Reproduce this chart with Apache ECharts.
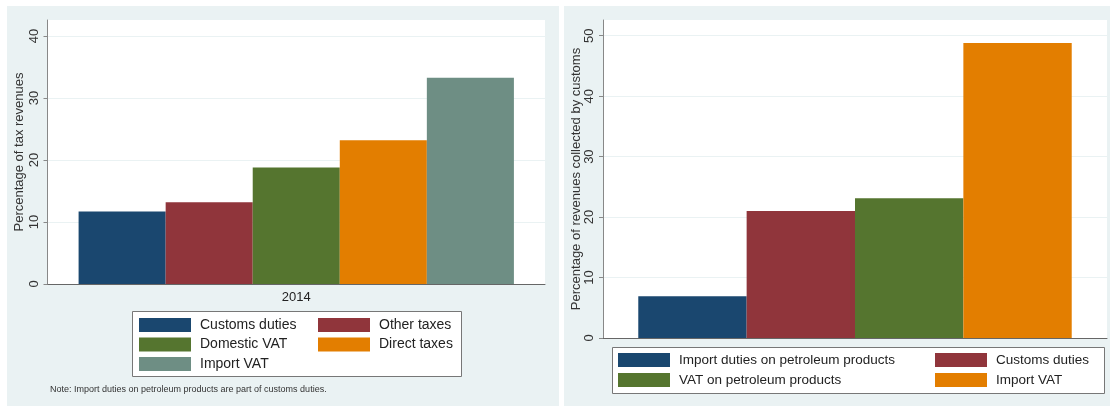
<!DOCTYPE html>
<html>
<head>
<meta charset="utf-8">
<script src="https://cdn.jsdelivr.net/npm/echarts@6/dist/echarts.min.js"></script>
<style>
  html, body { margin: 0; padding: 0; background: #ffffff; width: 1110px; height: 406px; overflow: hidden; }
  #left { position: absolute; left: 7px; top: 6px; width: 552px; height: 400px; }
  #right { position: absolute; left: 564px; top: 6px; width: 546px; height: 400px; }
</style>
</head>
<body>
<div id="left"></div>
<div id="right"></div>
<script>
// ---- Data ----
const leftCategories = ['2014'];
const leftSeriesNames = ['Customs duties', 'Other taxes', 'Domestic VAT', 'Direct taxes', 'Import VAT'];
const leftValues = [11.7, 13.2, 18.8, 23.2, 33.3];
const leftTicks = [0, 10, 20, 30, 40];
const leftAxisTitle = 'Percentage of tax revenues';
const leftNote = 'Note: Import duties on petroleum products are part of customs duties.';

const rightCategories = ['2014'];
const rightSeriesNames = ['Import duties on petroleum products', 'Customs duties', 'VAT on petroleum products', 'Import VAT'];
const rightValues = [6.9, 21.0, 23.1, 48.8];
const rightTicks = [0, 10, 20, 30, 40, 50];
const rightAxisTitle = 'Percentage of revenues collected by customs';

// ---- Styles ----
const FONT = '"Liberation Sans", Arial, sans-serif';
const PANEL_BG = '#EAF2F3';
const leftColors = ['#1A476F', '#90353B', '#55752F', '#E37E00', '#6E8E84'];
const rightColors = ['#1A476F', '#90353B', '#55752F', '#E37E00'];

function yAxis(max, ticks, title, gap) {
  return {
    type: 'value', min: 0, max: max, interval: 10,
    name: title, nameLocation: 'middle', nameRotate: 90, nameGap: gap, nameMoveOverlap: false,
    nameTextStyle: { fontFamily: FONT, fontSize: 13, color: '#333' },
    axisLine: { show: true, lineStyle: { color: '#888', width: 1 } },
    axisTick: { show: true, length: 4, lineStyle: { color: '#888' }, customValues: ticks },
    axisLabel: { rotate: 90, margin: 7, fontFamily: FONT, fontSize: 13, color: '#333', customValues: ticks },
    splitLine: { show: true, lineStyle: { color: '#EAF2F3', width: 1 } }
  };
}

function legendCol(names, left, top, fontSize, gap) {
  return {
    orient: 'vertical', left: left, top: top, data: names,
    itemWidth: 52, itemHeight: 14, itemGap: gap, icon: 'rect',
    padding: 0, selectedMode: false,
    textStyle: { fontFamily: FONT, fontSize: fontSize, color: '#222', padding: [0, 0, 0, 4] }
  };
}

// ---- Left chart ----
const leftChart = echarts.init(document.getElementById('left'), null, { renderer: 'canvas' });
leftChart.setOption({
  backgroundColor: PANEL_BG,
  animation: false,
  title: {
    text: leftNote, left: 43, top: 379, padding: 0,
    textStyle: { fontFamily: FONT, fontSize: 9, fontWeight: 'normal', color: '#333' }
  },
  grid: { left: 40.5, right: 14, top: 14, bottom: 122, containLabel: false, outerBoundsMode: 'none', show: true, backgroundColor: '#ffffff', borderWidth: 0 },
  xAxis: {
    type: 'category', data: leftCategories,
    axisLine: { lineStyle: { color: '#666', width: 1 } },
    axisTick: { show: false },
    axisLabel: { margin: 7, fontFamily: FONT, fontSize: 13, color: '#222' }
  },
  yAxis: yAxis(42.6, leftTicks, leftAxisTitle, 22),
  legend: [
    legendCol([leftSeriesNames[0], leftSeriesNames[2], leftSeriesNames[4]], 132, 312, 14, 5.5),
    legendCol([leftSeriesNames[1], leftSeriesNames[3]], 311, 312, 14, 5.5)
  ],
  graphic: [{
    type: 'rect', left: 125, top: 305, z: -1, silent: true,
    shape: { width: 329, height: 65 },
    style: { fill: '#ffffff', stroke: '#777', lineWidth: 1 }
  }],
  series: leftSeriesNames.map((n, i) => ({
    name: n, type: 'bar', data: [leftValues[i]],
    barGap: '0%', barCategoryGap: '12.5%',
    itemStyle: { color: leftColors[i] }
  }))
});

// ---- Right chart ----
const rightChart = echarts.init(document.getElementById('right'), null, { renderer: 'canvas' });
rightChart.setOption({
  backgroundColor: PANEL_BG,
  animation: false,
  grid: { left: 39, right: 3, top: 14, bottom: 68, containLabel: false, outerBoundsMode: 'none', show: true, backgroundColor: '#ffffff', borderWidth: 0 },
  xAxis: {
    type: 'category', data: rightCategories,
    axisLine: { lineStyle: { color: '#666', width: 1 } },
    axisTick: { show: false },
    axisLabel: { show: false }
  },
  yAxis: yAxis(52.6, rightTicks, rightAxisTitle, 20),
  legend: [
    legendCol([rightSeriesNames[0], rightSeriesNames[2]], 54, 347, 13.5, 6),
    legendCol([rightSeriesNames[1], rightSeriesNames[3]], 371, 347, 13.5, 6)
  ],
  graphic: [{
    type: 'rect', left: 48, top: 341, z: -1, silent: true,
    shape: { width: 492, height: 46 },
    style: { fill: '#ffffff', stroke: '#777', lineWidth: 1 }
  }],
  series: rightSeriesNames.map((n, i) => ({
    name: n, type: 'bar', data: [rightValues[i]],
    barGap: '0%', barCategoryGap: '14%',
    itemStyle: { color: rightColors[i] }
  }))
});
</script>
</body>
</html>
